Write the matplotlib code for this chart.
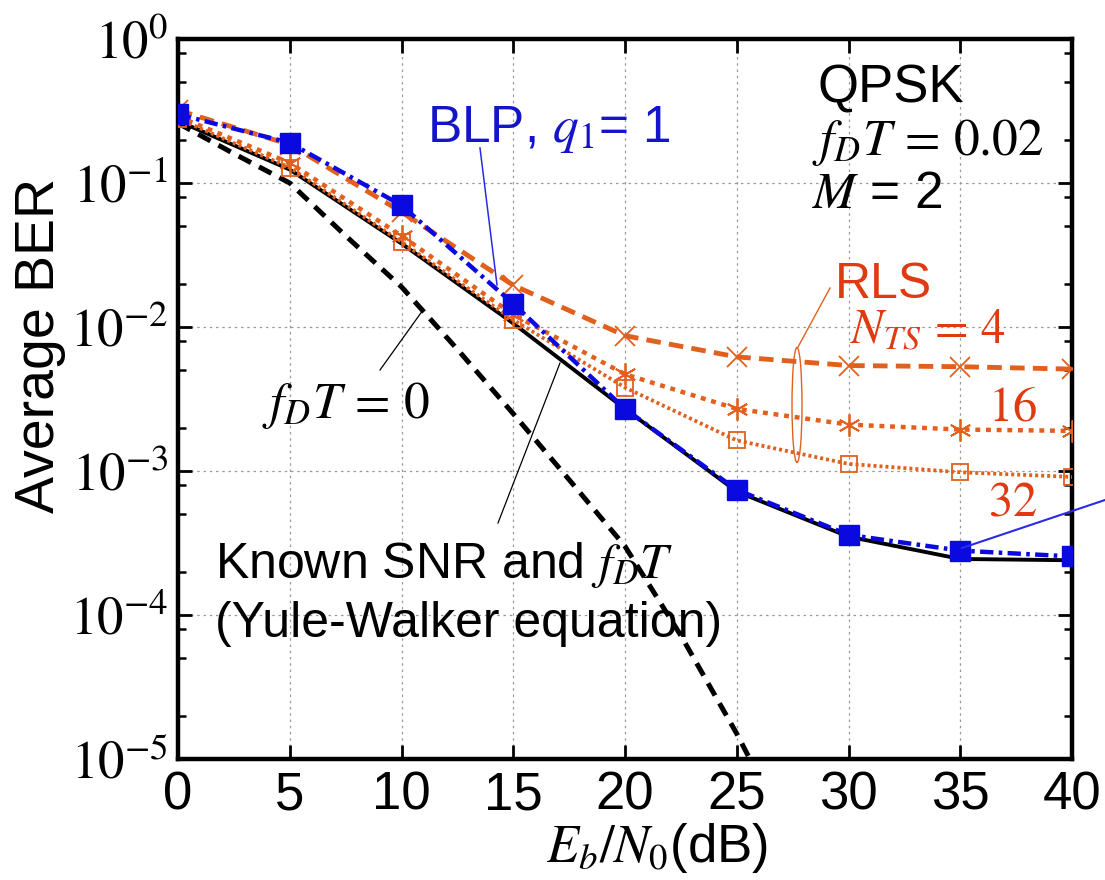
import numpy as np
import matplotlib
matplotlib.use("Agg")
import matplotlib.pyplot as plt
from matplotlib.transforms import Affine2D
from matplotlib.patches import Ellipse
from matplotlib.lines import Line2D
from matplotlib.ticker import LogLocator, FuncFormatter, NullFormatter

plt.rcParams['font.family'] = ['Liberation Sans', 'DejaVu Sans']
plt.rcParams['mathtext.fontset'] = 'stix'

# ---------------- data ----------------
snr_db = [0, 5, 10, 15, 20, 25, 30, 35, 40]
ber_known = [0.27, 0.124, 0.038, 0.0106, 0.0027, 7.2e-4, 3.5e-4, 2.45e-4, 2.4e-4]
ber_blp = [0.30, 0.19, 0.070, 0.0145, 0.0027, 7.4e-4, 3.6e-4, 2.8e-4, 2.55e-4]
ber_rls4 = [0.32, 0.185, 0.063, 0.0195, 0.0087, 0.0062, 0.0054, 0.0053, 0.0051]
ber_rls16 = [0.29, 0.138, 0.043, 0.0122, 0.0047, 0.0027, 0.0021, 0.00194, 0.0019]
ber_rls32 = [0.28, 0.128, 0.039, 0.0112, 0.0038, 0.00163, 0.00112, 0.00098, 0.00091]
snr_ideal = [0, 2.5, 5, 7.5, 10, 12.5, 15, 17.5, 20, 22.5, 25, 26]
ber_ideal = [0.26, 0.16, 0.10, 0.043, 0.019, 0.007, 0.0025, 8.7e-4, 3.0e-4, 7.2e-5, 1.5e-5, 7.5e-6]
xticks = [0, 5, 10, 15, 20, 25, 30, 35, 40]

W, H = 1105, 880
fig = plt.figure(figsize=(W / 100, H / 100), dpi=100)
L, R, T_, B = 178, 1072, 39, 759
ax = fig.add_axes([L / W, 1 - B / H, (R - L) / W, (B - T_) / H])
PX = Affine2D().scale(1, -1).translate(0, H)  # image pixel coords -> display

orange = '#e2601e'
red = '#e03a12'
blue = '#0a0ae0'

ax.plot(snr_ideal, ber_ideal, color='black', lw=3.6, dashes=[2.8, 1.8], zorder=2)
ax.plot(snr_db, ber_known, color='black', lw=2.8, zorder=3)
ax.plot(snr_db, ber_rls4, color=orange, lw=3.5, dashes=[3.0, 1.7], marker='x',
        ms=15, mew=1.3, zorder=4)
ax.plot(snr_db, ber_rls16, color=orange, lw=3.2, dashes=[1.1, 1.3], marker=(6, 2, 0),
        ms=16, mew=1.3, zorder=4)
ax.plot(snr_db, ber_rls32, color=orange, lw=2.7, dashes=[0.8, 0.8], marker='s',
        ms=12, mew=1.3, mfc='none', mec=orange, zorder=4)
ax.plot(snr_db, ber_blp, color=blue, lw=3.2, dashes=[3.0, 1.2, 0.8, 1.2], marker='s',
        ms=14, mec=blue, mfc=blue, zorder=5)

ax.set_yscale('log')
ax.set_xlim(0, 40)
ax.set_ylim(1e-5, 1)
ax.set_xticks(xticks)
ax.xaxis.set_major_formatter(FuncFormatter(lambda v, p: f'{int(v)}'))
ax.yaxis.set_major_locator(LogLocator(base=10, numticks=10))
ax.yaxis.set_minor_locator(LogLocator(base=10, subs=(2, 5, 8), numticks=10))
ax.yaxis.set_minor_formatter(NullFormatter())
ax.yaxis.set_major_formatter(FuncFormatter(lambda v, p: r'$10^{%d}$' % int(round(np.log10(v)))))
ax.grid(True, which='major', color='#9a9a9a', lw=0.9, dashes=(2, 3))
ax.tick_params(which='major', direction='in', length=10, width=2, top=True, right=True,
               labelsize=38, pad=8)
ax.tick_params(axis='y', which='major', labelsize=38, pad=7)
ax.tick_params(which='minor', direction='in', length=6, width=1.8, right=True)
for s in ax.spines.values():
    s.set_linewidth(3.2)

# ---------------- annotations (pixel coordinates) ----------------
def txt(x, y, s, size, color='black', ha='left', **kw):
    fig.text(x, y, s, transform=PX, fontsize=size, color=color, ha=ha, va='baseline', **kw)

fig.text(40, 345, 'Average BER', transform=PX, fontsize=40, rotation=90,
         ha='center', va='center')
txt(657, 862, r'$E_b/N_0$(dB)', 38, ha='center')

txt(817, 102, 'QPSK', 38)
txt(812, 155, r'$f_DT\,=\,0.02$', 37)
txt(812, 208, r'$M$ = 2', 37)
txt(427, 142, r'BLP, $q_1$= 1', 37, color='#1515c8')
txt(835, 298, 'RLS', 36, color=red)
txt(850, 343, r'$N_{TS}\,=\,4$', 35, color=red)
txt(988, 420, r'$16$', 35, color=red)
txt(988, 515, r'$32$', 35, color=red)
txt(262, 418, r'$f_DT\,=\,0$', 37)
txt(215, 578, r'Known SNR and $f_DT$', 36)
txt(215, 637, '(Yule-Walker equation)', 36)

def seg(x0, y0, x1, y1, color, lw):
    fig.add_artist(Line2D([x0, x1], [y0, y1], transform=PX, color=color, lw=lw, zorder=6))

seg(480, 148, 497, 285, '#2a2ae8', 1.1)
seg(962, 548, 1105, 500, '#2a2ae8', 1.5)
seg(380, 370, 423, 310, 'black', 0.9)
seg(498, 523, 560, 363, 'black', 0.9)
seg(830, 288, 798, 347, orange, 1.0)
fig.add_artist(Ellipse((797, 405), 10, 115, transform=PX, fill=False, ec=orange, lw=1.0))

fig.savefig('out.png', dpi=100)
